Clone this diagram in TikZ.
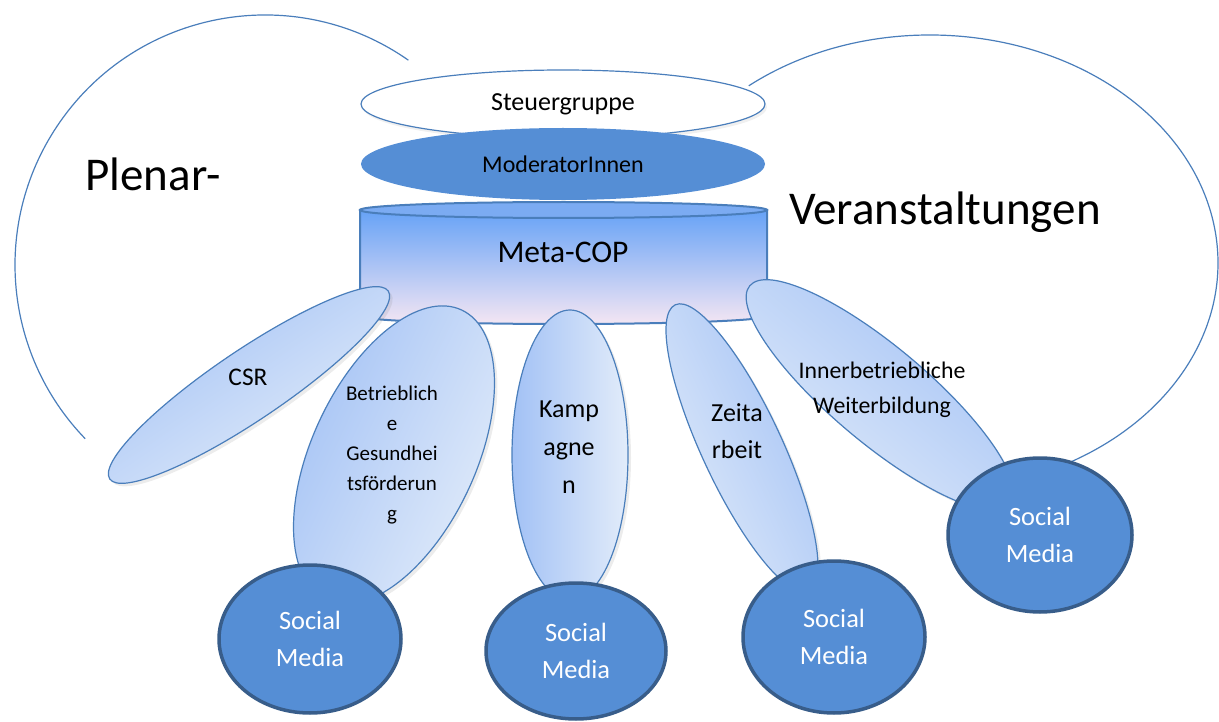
\documentclass[tikz,border=0pt]{standalone}
\usepackage{fontspec}
\setmainfont{Carlito}
\usepackage{tikz}
\usetikzlibrary{shapes.geometric,shadows}

\definecolor{lineblue}{HTML}{4A7EBB}
\definecolor{modblue}{HTML}{558ED5}
\definecolor{smborder}{HTML}{385D8A}
\definecolor{petaldark}{HTML}{A2C1F5}
\definecolor{petallight}{HTML}{E2ECFA}
\definecolor{captop}{HTML}{7BABF2}
\definecolor{cyltop}{HTML}{66A2F6}
\definecolor{cylmid}{HTML}{8ABCF7}
\definecolor{cylbottom}{HTML}{F4E6F3}

\begin{document}
\begin{tikzpicture}[
    x=1pt, y=1pt,
    every node/.style={font=\fontsize{26}{37}\selectfont},
    arcline/.style={lineblue,line width=1.2pt},
    disc/.style={ellipse,inner sep=0pt,align=center},
    barrel/.style={draw=lineblue,line width=2pt},
    petal/.style={ellipse,draw=lineblue,line width=1.2pt,inner sep=0pt,
        top color=petaldark,bottom color=petallight,
        drop shadow={opacity=0.15,shadow xshift=3pt,shadow yshift=-3pt}},
    social/.style={disc,draw=smborder,line width=3.5pt,fill=modblue,text=white,
        font=\fontsize{26.4}{37}\selectfont}
]
\useasboundingbox (0,0) rectangle (1219,-722);

% Plenar-Veranstaltungen arcs
\draw[arcline] (265,-265) ++(55:250) arc[start angle=55,end angle=224,radius=250];
\draw[arcline] (930,-263) ++(129:288 and 228) arc[start angle=129,end angle=-63,x radius=288,y radius=228];
\node (plenar) at (153,-174) {\fontsize{47}{50}\selectfont Plenar-};
\node (veranst) at (945,-212) {\fontsize{47}{50}\selectfont Veranstaltungen};

% top discs
\node[disc,draw=lineblue,line width=1.2pt,fill=white,minimum width=404pt,minimum height=68pt,
      drop shadow={opacity=0.12,shadow xshift=2pt,shadow yshift=-3pt}]
      (steuer) at (563,-104) {Steuergruppe};
\node[disc,fill=modblue,minimum width=404pt,minimum height=72pt,font=\fontsize{24}{30}\selectfont]
      (moderator) at (563,-164) {ModeratorInnen};

% Meta-COP barrel
\draw[barrel,top color=cyltop,middle color=cylmid,bottom color=cylbottom]
    (360,-210) -- (360,-316) arc[start angle=180,end angle=360,x radius=203.5,y radius=8] -- (767,-210) -- cycle;
\draw[barrel,fill=captop] (563.5,-210) ellipse[x radius=203.5,y radius=8];
\node (metacop) at (563,-252) {\fontsize{31.5}{36}\selectfont Meta-COP};

% petals
\node[petal,shading angle=34,minimum width=336pt,minimum height=70pt,rotate=34] (csrleaf) at (249,-385) {};
\node[petal,shading angle=65,minimum width=320pt,minimum height=164pt,rotate=65] (bgfleaf) at (394,-455) {};
\node[petal,shading angle=90,minimum width=290pt,minimum height=116pt,rotate=90] (kampleaf) at (570,-455) {};
\node[petal,shading angle=-65,minimum width=316pt,minimum height=80pt,rotate=-65] (zeitleaf) at (742,-448) {};
\node[petal,shading angle=-40,minimum width=340pt,minimum height=96pt,rotate=-40] (ibwleaf) at (880,-395) {};

\node (csr) at (248,-377) {\fontsize{25.4}{30}\selectfont CSR};
\node[align=center,font=\fontsize{21}{30}\selectfont] (bgf) at (392,-455)
    {Betrieblich\\e\\Gesundhei\\tsförderun\\g};
\node[align=center,font=\fontsize{26}{37.7}\selectfont] (kamp) at (569,-447) {Kamp\\agne\\n};
\node[align=center,font=\fontsize{26}{37}\selectfont] (zeit) at (737,-431) {Zeita\\rbeit};
\node[align=center,font=\fontsize{23.8}{35}\selectfont] (ibw) at (882,-390)
    {Innerbetriebliche\\Weiterbildung};

% Social Media discs
\node[social,minimum width=182pt,minimum height=148pt] (sm1) at (310,-639) {Social\\Media};
\node[social,minimum width=180pt,minimum height=136pt] (sm2) at (576,-651) {Social\\Media};
\node[social,minimum width=182pt,minimum height=152pt] (sm3) at (834,-637) {Social\\Media};
\node[social,minimum width=184pt,minimum height=154pt] (sm4) at (1040,-535) {Social\\Media};

\end{tikzpicture}
\end{document}
